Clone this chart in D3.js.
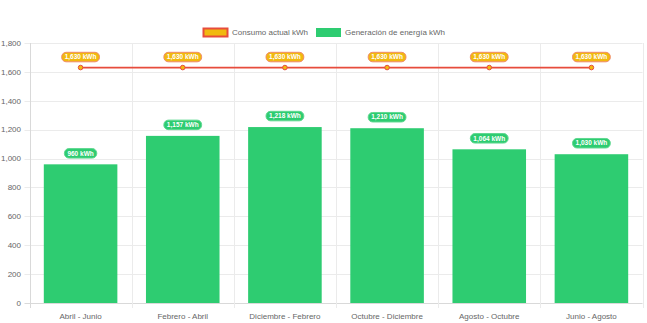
<!DOCTYPE html>
<html>
<head>
<meta charset="utf-8">
<script src="https://cdn.jsdelivr.net/npm/d3@7/dist/d3.min.js"></script>
<style>
  html, body { margin: 0; padding: 0; background: #fff; }
  svg { display: block; font-family: "Liberation Sans", Arial, Helvetica, sans-serif; }
</style>
</head>
<body>
<svg id="chart" width="647" height="323"></svg>
<script>
// Periods and energy figures (kWh)
const periods = ["Abril - Junio", "Febrero - Abril", "Diciembre - Febrero", "Octubre - Diciembre", "Agosto - Octubre", "Junio - Agosto"];
const generation = [960, 1157, 1218, 1210, 1064, 1030];
const consumption = [1630, 1630, 1630, 1630, 1630, 1630];
const yTicks = [0, 200, 400, 600, 800, 1000, 1200, 1400, 1600, 1800];
const seriesNames = ["Consumo actual kWh", "Generación de energía kWh"];

const green = "#2ecc71";
const red = "#e74c3c";
const amber = "#f1b90f";

const svg = d3.select("#chart");
const margin = { top: 43, right: 5, bottom: 20, left: 29.5 };

const x = d3.scaleBand().domain(periods).range([margin.left, 642.5]).paddingInner(0).paddingOuter(0);
const y = d3.scaleLinear().domain([0, 1800]).range([303, margin.top]);

const fmt = d3.format(",");

// grid lines
const grid = svg.append("g");
grid.selectAll("line.h").data(yTicks).join("line")
  .attr("x1", margin.left - 5).attr("x2", 642.5)
  .attr("y1", d => Math.round(y(d)) + 0.5).attr("y2", d => Math.round(y(d)) + 0.5)
  .attr("stroke", d => d === 0 ? "#d9d9d9" : "#ebebeb").attr("stroke-width", 1);
const vlines = periods.map(p => x(p)).concat([x.range()[1]]);
grid.selectAll("line.v").data(vlines).join("line")
  .attr("x1", d => Math.round(d) + 0.5).attr("x2", d => Math.round(d) + 0.5)
  .attr("y1", margin.top).attr("y2", 308)
  .attr("stroke", (d, i) => i === 0 ? "#d9d9d9" : "#ebebeb").attr("stroke-width", 1);

// y tick labels
svg.append("g").selectAll("text").data(yTicks).join("text")
  .attr("x", 21).attr("y", d => y(d)).attr("dy", "0.35em")
  .attr("text-anchor", "end").attr("font-size", 8).attr("fill", "#666")
  .text(d => fmt(d));

// x tick labels
svg.append("g").selectAll("text").data(periods).join("text")
  .attr("x", d => x(d) + x.bandwidth() / 2).attr("y", 316).attr("dy", "0.35em")
  .attr("text-anchor", "middle").attr("font-size", 8).attr("fill", "#666")
  .text(d => d);

// bars
const barW = x.bandwidth() * 0.72;
svg.append("g").selectAll("rect").data(generation).join("rect")
  .attr("x", (d, i) => x(periods[i]) + (x.bandwidth() - barW) / 2)
  .attr("width", barW)
  .attr("y", d => y(d)).attr("height", d => y(0) - y(d))
  .attr("fill", green);

// consumption line
const cx = (i) => x(periods[i]) + x.bandwidth() / 2;
const line = d3.line().x((d, i) => cx(i)).y(d => y(d));
svg.append("path").datum(consumption).attr("d", line)
  .attr("fill", "none").attr("stroke", red).attr("stroke-width", 1.8);
svg.append("g").selectAll("circle").data(consumption).join("circle")
  .attr("cx", (d, i) => cx(i)).attr("cy", d => y(d)).attr("r", 2.3)
  .attr("fill", amber).attr("stroke", red).attr("stroke-width", 1);

// value badges
function badge(g, cxv, cyv, txt, fill, stroke) {
  const t = g.append("text").attr("x", cxv).attr("y", cyv).attr("dy", "0.35em")
    .attr("text-anchor", "middle").attr("font-size", 6.5).attr("font-weight", "bold")
    .attr("fill", "#fff").text(txt);
  const w = t.node().getComputedTextLength() + 6;
  const h = 9.5;
  g.insert("rect", "text").attr("x", cxv - w / 2).attr("y", cyv - h / 2)
    .attr("width", w).attr("height", h).attr("rx", 4.5).attr("ry", 4.5)
    .attr("fill", fill).attr("stroke", stroke).attr("stroke-width", 1);
}
const badges = svg.append("g");
generation.forEach((v, i) => {
  badge(badges.append("g"), cx(i), y(v) - 11, fmt(v) + " kWh", green, "#5fd890");
});
consumption.forEach((v, i) => {
  badge(badges.append("g"), cx(i), y(v) - 10.5, fmt(v) + " kWh", amber, "#f08a6a");
});

// legend
const legend = svg.append("g");
legend.append("rect").attr("x", 203.5).attr("y", 28.5).attr("width", 24).attr("height", 8)
  .attr("fill", amber).attr("stroke", red).attr("stroke-width", 2);
legend.append("text").attr("x", 232).attr("y", 32.5).attr("dy", "0.35em")
  .attr("font-size", 8).attr("fill", "#666").text(seriesNames[0]);
legend.append("rect").attr("x", 316).attr("y", 28).attr("width", 25).attr("height", 9)
  .attr("fill", green);
legend.append("text").attr("x", 345).attr("y", 32.5).attr("dy", "0.35em")
  .attr("font-size", 8).attr("fill", "#666").text(seriesNames[1]);
</script>
</body>
</html>
